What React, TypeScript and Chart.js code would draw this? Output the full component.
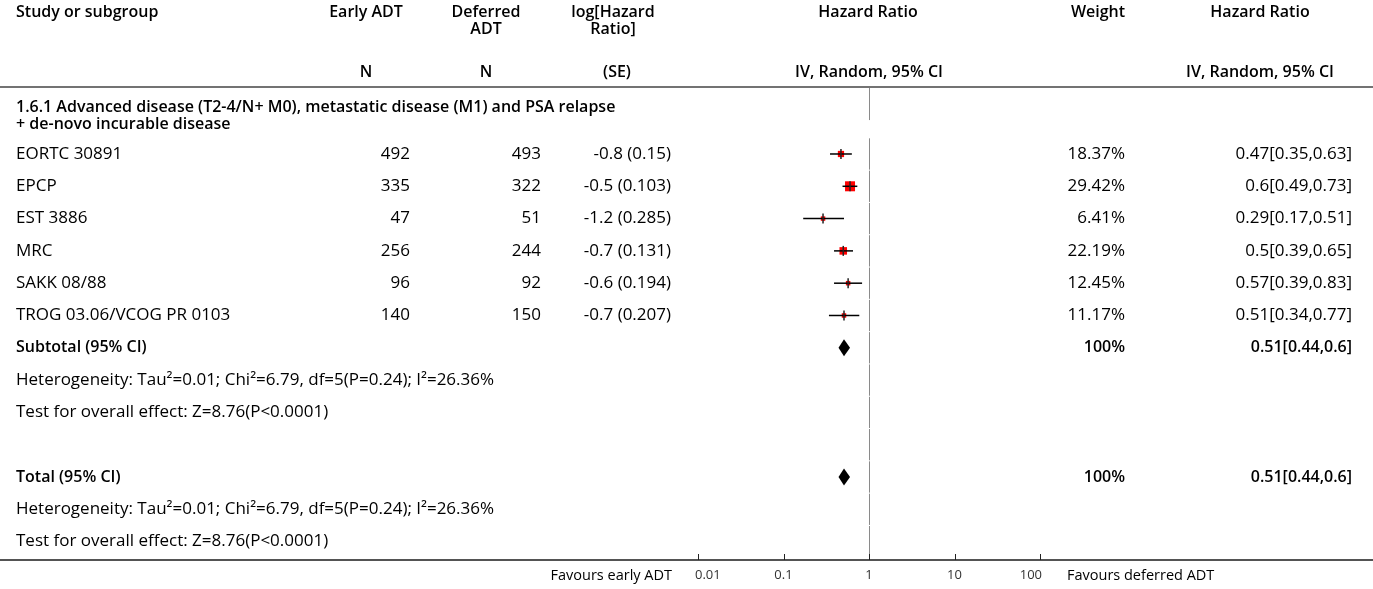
import React, { useEffect, useRef } from 'react';
import { Chart, registerables } from 'chart.js';
Chart.register(...registerables);

const studies = ['EORTC 30891', 'EPCP', 'EST 3886', 'MRC', 'SAKK 08/88', 'TROG 03.06/VCOG PR 0103'];
const earlyN = [492, 335, 47, 256, 96, 140];
const deferredN = [493, 322, 51, 244, 92, 150];
const logHR = ['-0.8', '-0.5', '-1.2', '-0.7', '-0.6', '-0.7'];
const seLogHR = ['0.15', '0.103', '0.285', '0.131', '0.194', '0.207'];
const weights = [18.37, 29.42, 6.41, 22.19, 12.45, 11.17];
const hazardRatio = [0.47, 0.6, 0.29, 0.5, 0.57, 0.51];
const ciLow = [0.35, 0.49, 0.17, 0.39, 0.39, 0.34];
const ciHigh = [0.63, 0.73, 0.51, 0.65, 0.83, 0.77];
const pooledLabels = ['Subtotal (95% CI)', 'Total (95% CI)'];
const pooledHR = [0.51, 0.51];
const pooledLow = [0.44, 0.44];
const pooledHigh = [0.6, 0.6];
const pooledWeight = ['100%', '100%'];
const heterogeneityText = 'Heterogeneity: Tau²=0.01; Chi²=6.79, df=5(P=0.24); I²=26.36%';
const overallEffectText = 'Test for overall effect: Z=8.76(P<0.0001)';
const subgroupTitle = ['1.6.1 Advanced disease (T2-4/N+ M0), metastatic disease (M1) and PSA relapse', '+ de-novo incurable disease'];
const xTicks = [0.01, 0.1, 1, 10, 100];
const xTickLabels = ['0.01', '0.1', '1', '10', '100'];

const W = 1373;
const H = 589;
const FONT = '"Open Sans"';
const SIZE = 17;
const BOLD_SIZE = 16;

export default function App() {
  const ref = useRef<HTMLCanvasElement>(null);

  useEffect(() => {
    const canvas = ref.current!;
    // row index layout: studies 0..5, subtotal 6, het 7, test 8, total 10, het 11, test 12
    const pooledRows = [6, 10];

    const datasets: any[] = [];
    datasets.push({
      type: 'scatter',
      data: hazardRatio.map((v, i) => ({ x: v, y: i })),
      pointStyle: 'rect',
      pointRadius: weights.map((w) => Math.max(4.5, w * 0.34) / Math.SQRT2),
      pointHoverRadius: weights.map((w) => Math.max(4.5, w * 0.34) / Math.SQRT2),
      backgroundColor: '#ff0000',
      borderColor: '#ff0000',
      borderWidth: 0,
      order: 3,
    });
    studies.forEach((_, i) => {
      datasets.push({
        type: 'scatter',
        showLine: true,
        data: [
          { x: ciLow[i], y: i },
          { x: ciHigh[i], y: i },
        ],
        borderColor: '#000',
        borderWidth: 1.5,
        pointRadius: 0,
        pointHoverRadius: 0,
        order: 2,
      });
    });
    datasets.push({
      type: 'scatter',
      data: hazardRatio.map((v, i) => ({ x: v, y: i })),
      pointStyle: 'line',
      rotation: 90,
      pointRadius: 5,
      pointHoverRadius: 5,
      borderColor: '#222',
      borderWidth: 1.5,
      order: 1,
    });

    const txt = (
      ctx: CanvasRenderingContext2D,
      s: string,
      x: number,
      y: number,
      align: CanvasTextAlign,
      bold = false,
      size = bold ? BOLD_SIZE : SIZE,
      color = '#000'
    ) => {
      ctx.font = `${bold ? '600 ' : ''}${size}px ${FONT}`;
      ctx.fillStyle = color;
      ctx.textAlign = align;
      ctx.textBaseline = 'middle';
      ctx.fillText(s, x, y);
    };

    const forestPlugin = {
      id: 'forest',
      beforeDatasetsDraw(chart: any) {
        const { ctx, scales, chartArea } = chart;
        const xs = scales.x;
        const ys = scales.y;
        const x1 = Math.round(xs.getPixelForValue(1)) + 0.5;
        ctx.save();
        ctx.strokeStyle = '#8a8a8a';
        ctx.lineWidth = 1;
        ctx.beginPath();
        ctx.moveTo(x1, chartArea.top);
        ctx.lineTo(x1, ys.getPixelForValue(-1.05));
        for (let r = 0; r <= 12; r++) {
          ctx.moveTo(x1, ys.getPixelForValue(r - 0.5) + 0.5);
          ctx.lineTo(x1, ys.getPixelForValue(r + 0.5) - 0.5);
        }
        ctx.stroke();
        ctx.restore();
      },
      afterDatasetsDraw(chart: any) {
        const { ctx, scales } = chart;
        const xs = scales.x;
        const ys = scales.y;
        ctx.save();
        ctx.fillStyle = '#000';
        pooledRows.forEach((row, k) => {
          const y = ys.getPixelForValue(row);
          const xl = xs.getPixelForValue(pooledLow[k]);
          const xm = xs.getPixelForValue(pooledHR[k]);
          const xr = xs.getPixelForValue(pooledHigh[k]);
          ctx.beginPath();
          ctx.moveTo(xl, y);
          ctx.lineTo(xm, y - 8.5);
          ctx.lineTo(xr, y);
          ctx.lineTo(xm, y + 8.5);
          ctx.closePath();
          ctx.fill();
        });
        ctx.restore();
      },
      afterDraw(chart: any) {
        const { ctx, scales, chartArea } = chart;
        const xs = scales.x;
        const ys = scales.y;
        ctx.save();
        // table rules
        ctx.strokeStyle = '#444';
        ctx.lineWidth = 1.5;
        ctx.beginPath();
        ctx.moveTo(0, 87);
        ctx.lineTo(W, 87);
        ctx.stroke();
        ctx.strokeStyle = '#1a1a1a';
        ctx.beginPath();
        ctx.moveTo(0, chartArea.bottom);
        ctx.lineTo(W, chartArea.bottom);
        ctx.stroke();
        // axis tick marks (upward) and labels, clamped inside the axis at the ends
        ctx.lineWidth = 1;
        ctx.strokeStyle = '#222';
        ctx.beginPath();
        xTicks.forEach((t) => {
          const px = Math.round(xs.getPixelForValue(t)) + 0.5;
          ctx.moveTo(px, chartArea.bottom);
          ctx.lineTo(px, chartArea.bottom - 6);
        });
        ctx.stroke();
        xTicks.forEach((t, i) => {
          const px = xs.getPixelForValue(t);
          const align: CanvasTextAlign = i === 0 ? 'left' : i === xTicks.length - 1 ? 'right' : 'center';
          const dx = i === 0 ? -3 : i === xTicks.length - 1 ? 2 : 0;
          txt(ctx, xTickLabels[i], px + dx, chartArea.bottom + 15.5, align, false, 13, '#333');
        });

        // header
        txt(ctx, 'Study or subgroup', 16, 12, 'left', true);
        txt(ctx, 'Early ADT', 366, 12, 'center', true);
        txt(ctx, 'N', 366, 72, 'center', true);
        txt(ctx, 'Deferred', 486, 12, 'center', true);
        txt(ctx, 'ADT', 486, 29, 'center', true);
        txt(ctx, 'N', 486, 72, 'center', true);
        txt(ctx, 'log[Hazard', 613, 12, 'center', true);
        txt(ctx, 'Ratio]', 613, 29, 'center', true);
        txt(ctx, '(SE)', 617, 72, 'center', true);
        txt(ctx, 'Hazard Ratio', 868, 12, 'center', true);
        txt(ctx, 'IV, Random, 95% CI', 869, 72, 'center', true);
        txt(ctx, 'Weight', 1098, 12, 'center', true);
        txt(ctx, 'Hazard Ratio', 1260, 12, 'center', true);
        txt(ctx, 'IV, Random, 95% CI', 1260, 72, 'center', true);

        // subgroup title
        txt(ctx, subgroupTitle[0], 16, ys.getPixelForValue(-1.43), 'left', true);
        txt(ctx, subgroupTitle[1], 16, ys.getPixelForValue(-0.93), 'left', true);

        // study rows
        studies.forEach((s, i) => {
          const y = ys.getPixelForValue(i);
          txt(ctx, s, 16, y, 'left');
          txt(ctx, String(earlyN[i]), 410, y, 'right');
          txt(ctx, String(deferredN[i]), 541, y, 'right');
          txt(ctx, `${logHR[i]} (${seLogHR[i]})`, 671, y, 'right');
          txt(ctx, `${weights[i].toFixed(2)}%`, 1125, y, 'right');
          txt(ctx, `${hazardRatio[i]}[${ciLow[i]},${ciHigh[i]}]`, 1352, y, 'right');
        });

        pooledRows.forEach((row, k) => {
          const y = ys.getPixelForValue(row);
          txt(ctx, pooledLabels[k], 16, y, 'left', true);
          txt(ctx, pooledWeight[k], 1125, y, 'right', true);
          txt(ctx, `${pooledHR[k]}[${pooledLow[k]},${pooledHigh[k]}]`, 1352, y, 'right', true);
          txt(ctx, heterogeneityText, 16, ys.getPixelForValue(row + 1), 'left');
          txt(ctx, overallEffectText, 16, ys.getPixelForValue(row + 2), 'left');
        });

        // favours labels
        txt(ctx, 'Favours early ADT', 672, 576, 'right', false, 14.5);
        txt(ctx, 'Favours deferred ADT', 1067, 576, 'left', false, 14.5);
        ctx.restore();
      },
    };

    const chart = new Chart(canvas, {
      type: 'scatter',
      data: { datasets },
      options: {
        animation: false,
        responsive: false,
        events: [],
        layout: { padding: { left: 698, right: W - 1040, top: 88, bottom: 29 } },
        plugins: { legend: { display: false }, tooltip: { enabled: false } },
        scales: {
          x: {
            type: 'logarithmic',
            min: 0.01,
            max: 100,
            display: false,
          },
          y: {
            type: 'linear',
            reverse: true,
            min: -2.043,
            max: 12.57,
            display: false,
          },
        },
      },
      plugins: [forestPlugin],
    });
    return () => chart.destroy();
  }, []);

  return (
    <div style={{ position: 'absolute', left: 0, top: 0, width: W, height: H, background: '#fff' }}>
      <canvas ref={ref} width={W} height={H} style={{ width: W, height: H, display: 'block' }} />
    </div>
  );
}
